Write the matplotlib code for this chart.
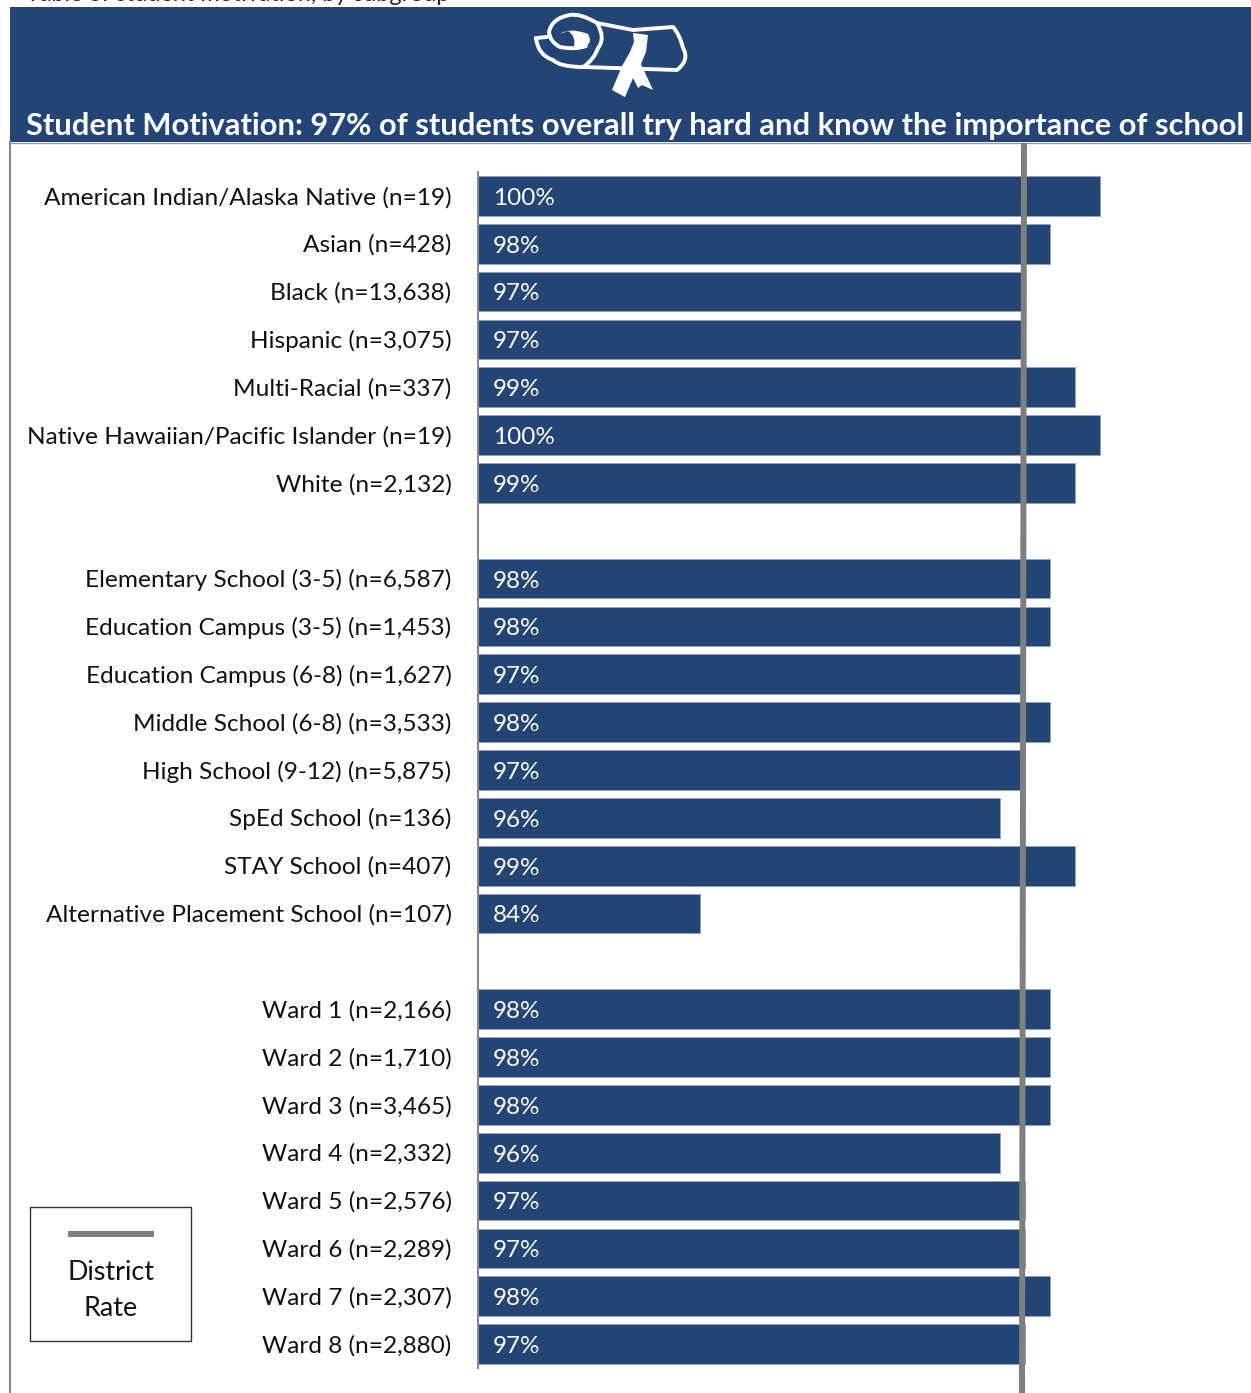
import matplotlib
matplotlib.use('Agg')
import matplotlib.pyplot as plt
from matplotlib.patches import Rectangle, PathPatch, Polygon
from matplotlib.path import Path
from matplotlib.transforms import ScaledTranslation

plt.rcParams['font.family'] = ['Lato', 'DejaVu Sans']

W, H = 1251, 1393

race_labels = ['American Indian/Alaska Native (n=19)', 'Asian (n=428)', 'Black (n=13,638)',
               'Hispanic (n=3,075)', 'Multi-Racial (n=337)',
               'Native Hawaiian/Pacific Islander (n=19)', 'White (n=2,132)']
race_values = [100, 98, 97, 97, 99, 100, 99]

school_labels = ['Elementary School (3-5) (n=6,587)', 'Education Campus (3-5) (n=1,453)',
                 'Education Campus (6-8) (n=1,627)', 'Middle School (6-8) (n=3,533)',
                 'High School (9-12) (n=5,875)', 'SpEd School (n=136)', 'STAY School (n=407)',
                 'Alternative Placement School (n=107)']
school_values = [98, 98, 97, 98, 97, 96, 99, 84]

ward_labels = ['Ward 1 (n=2,166)', 'Ward 2 (n=1,710)', 'Ward 3 (n=3,465)', 'Ward 4 (n=2,332)',
               'Ward 5 (n=2,576)', 'Ward 6 (n=2,289)', 'Ward 7 (n=2,307)', 'Ward 8 (n=2,880)']
ward_values = [98, 98, 98, 96, 97, 97, 98, 97]

title = 'Student Motivation: 97% of students overall try hard and know the importance of school'

NAVY = '#244476'
GREY = '#7f7f7f'

# blank rows keep the gaps between the three groups
labels = race_labels + [''] + school_labels + [''] + ward_labels
values = race_values + [None] + school_values + [None] + ward_values

fig = plt.figure(figsize=(W / 100, H / 100), dpi=100, facecolor='white')

# pixel-coordinate layer for the banner, frame and key
bg = fig.add_axes([0, 0, 1, 1])
bg.set_xlim(0, W)
bg.set_ylim(H, 0)
bg.axis('off')

bg.add_patch(Rectangle((10, 7), W - 10, 135, fc=NAVY, ec='none'))
bg.plot([10, W], [142.5, 142.5], color='#9a9a9a', lw=1)
bg.plot([10, 10], [142, H], color='#8a8a8a', lw=1.5)
# heading of the page runs off the top edge
bg.text(238, 1, 'Table of student motivation, by subgroup', fontsize=16.8, ha='center', va='baseline',
        color='#222222')
bg.text(26, 125.5, title, color='white', fontsize=22.25, fontweight='bold', va='center', ha='left')

# diploma scroll
stroke = dict(fc='none', ec='white', lw=2.8, capstyle='round', joinstyle='round')
C3, L, M = Path.CURVE3, Path.LINETO, Path.MOVETO
outline = Path([(536, 38), (547, 37), (536, 38), (538, 55), (553, 60), (560, 67), (583, 67),
                (677, 70), (690, 60), (683, 48), (680, 35), (673, 27), (633, 30), (597, 23),
                (580, 13), (570, 15), (552, 18), (549, 32), (550, 42), (560, 47), (575, 50), (586, 46)],
               [M, L, M, C3, C3, C3, C3, L, C3, C3, C3, C3, L, L, C3, C3, C3, C3, C3, C3, C3, C3])
bg.add_patch(PathPatch(outline, **stroke))
roll = Path([(597, 23), (606, 38), (598, 48), (594, 60), (583, 67)], [M, C3, C3, C3, C3])
bg.add_patch(PathPatch(roll, **stroke))
curl = Path([(560, 34), (570, 27), (588, 34), (594, 44), (582, 47), (574, 46), (576, 36), (568, 31), (560, 34)],
            [M, C3, C3, C3, C3, L, C3, C3, Path.CLOSEPOLY])
bg.add_patch(PathPatch(curl, fc='white', ec='none'))
bg.add_patch(Polygon([(633, 33), (648, 35), (646, 52), (641, 64), (653, 90), (642, 85), (638, 88),
                      (633, 78), (625, 97), (612, 90), (622, 66), (630, 52), (634, 42)],
                     fc='white', ec='none'))

# key in the lower left corner
bg.add_patch(Rectangle((29.5, 1206.5), 161.5, 134, fc='white', ec='#333333', lw=1))
bg.plot([68, 154], [1234, 1234], color=GREY, lw=4.3, solid_capstyle='butt')
bg.text(110.5, 1272, 'District', fontsize=19.4, ha='center', va='center', color='#111111')
bg.text(110.5, 1308, 'Rate', fontsize=19.4, ha='center', va='center', color='#111111')

# bar panel spans pixel rows 172-1368, 25 px per percentage point
top, bottom, left = 172, 1368, 478
ax = fig.add_axes([left / W, (H - bottom) / H, 1 - left / W, (bottom - top) / H])
ax.patch.set_alpha(0)
ypos = list(range(len(labels)))
for y, v in zip(ypos, values):
    if v is None:
        continue
    ax.barh(y, v, height=0.83, color=NAVY, edgecolor='#8fa3c4', linewidth=0.6)
    ax.text(75.72, y + 0.05, f'{v}%', color='white', fontsize=17.5, va='center', ha='left')

ax.set_xlim(100 - (1100 - left) / 25, 100 + (W - 1100) / 25)
ax.set_ylim(len(labels) - 0.5, -0.5)
ax.set_yticks(ypos)
ax.set_yticklabels(labels, fontsize=17.6, color='#111111', va='center')
ax.tick_params(axis='y', length=0, pad=19)
nudge = ScaledTranslation(0, -1.5 / 100, fig.dpi_scale_trans)
for tick in ax.get_yticklabels():
    tick.set_transform(tick.get_transform() + nudge)
ax.set_xticks([])
for side in ['top', 'right', 'bottom']:
    ax.spines[side].set_visible(False)
ax.spines['left'].set_color('#8a8a8a')
ax.spines['left'].set_linewidth(1.5)

# district line leans slightly, running from the banner to the page bottom
overlay = fig.add_axes([0, 0, 1, 1])
overlay.set_xlim(0, W)
overlay.set_ylim(H, 0)
overlay.axis('off')
overlay.plot([1024, 1022], [143, H], color=GREY, lw=4.3, solid_capstyle='butt')

fig.savefig('out.png', dpi=100)
